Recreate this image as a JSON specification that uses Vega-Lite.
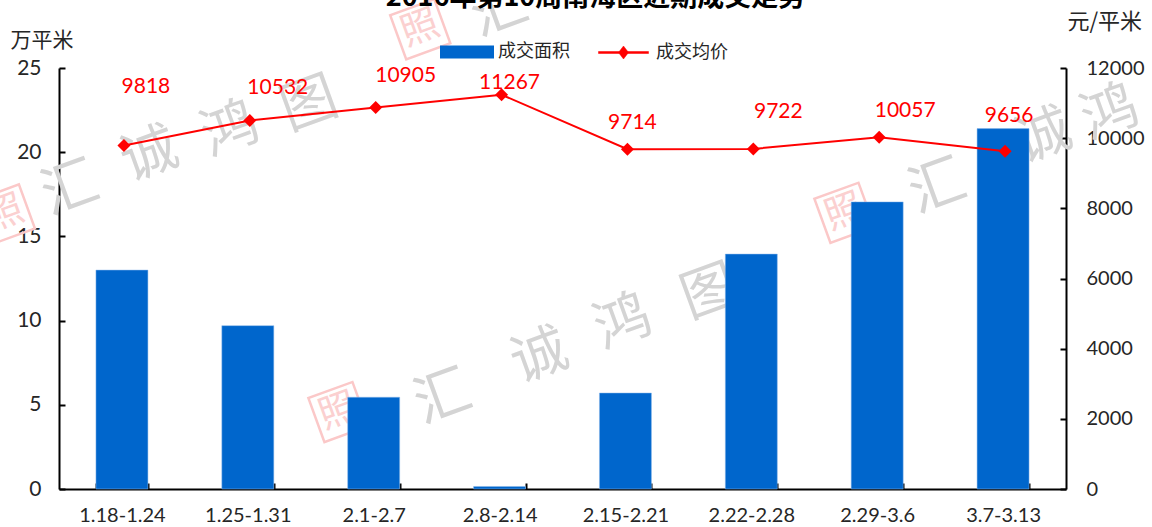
{"$schema":"https://vega.github.io/schema/vega-lite/v6.json","width":1007,"height":421,"autosize":{"type":"none"},"padding":{"left":59,"top":68,"right":86,"bottom":38},"background":"white",
"title":{"text":"2016年第10周南海区近期成交走势","font":"Noto Sans CJK SC","fontWeight":"bold","fontSize":27,"color":"#000000","anchor":"middle","dx":33,"offset":-37},
"config":{"view":{"stroke":null},"axis":{"grid":false}},
"datasets":{
"weeks":[{"week":"1.18-1.24","area":13,"price":9818},{"week":"1.25-1.31","area":9.7,"price":10532},{"week":"2.1-2.7","area":5.45,"price":10905},{"week":"2.8-2.14","area":0.15,"price":11267},{"week":"2.15-2.21","area":5.7,"price":9714},{"week":"2.22-2.28","area":13.95,"price":9722},{"week":"2.29-3.6","area":17.05,"price":10057},{"week":"3.7-3.13","area":21.4,"price":9656}],
"mark":[{"c":"汇","wx":-0.41,"wy":17.8},{"c":"诚","wx":0.22,"wy":19.8},{"c":"鸿","wx":0.86,"wy":21.3},{"c":"图","wx":1.49,"wy":22.8},{"c":"汇","wx":2.55,"wy":5.4},{"c":"诚","wx":3.32,"wy":7.84},{"c":"鸿","wx":3.98,"wy":9.86},{"c":"图","wx":4.67,"wy":11.64},{"c":"汇","wx":6.48,"wy":17.9},{"c":"诚","wx":7.32,"wy":20.9},{"c":"鸿","wx":7.85,"wy":22.3},{"c":"汇","wx":3.0,"wy":28.4}],
"stamp":[{"wx":-0.93,"wy":16.3},{"wx":1.72,"wy":4.57},{"wx":5.74,"wy":16.4},{"wx":2.37,"wy":27.3}]},
"data":{"name":"weeks"},
"layer":[
{"data":{"name":"mark"},"mark":{"type":"text","font":"Noto Sans CJK SC","fontSize":56,"color":"#d4d4d4","angle":-20},"encoding":{"x":{"field":"wx","type":"quantitative","scale":{"domain":[-0.5,7.5],"nice":false},"axis":null},"y":{"field":"wy","type":"quantitative","scale":{"domain":[0,25]},"axis":null},"text":{"field":"c"}}},
{"data":{"name":"stamp"},"layer":[{"mark":{"type":"text","font":"Noto Sans CJK SC","fontSize":38,"color":"#fbd0d0","angle":-20,"text":"照"}},{"mark":{"type":"point","shape":"square","size":2200,"filled":false,"stroke":"#fbc8c8","strokeWidth":2.5,"angle":-20,"opacity":1}}],"encoding":{"x":{"field":"wx","type":"quantitative","scale":{"domain":[-0.5,7.5],"nice":false},"axis":null},"y":{"field":"wy","type":"quantitative","scale":{"domain":[0,25]},"axis":null}}},
{"mark":{"type":"bar","stroke":"#8db8ea","strokeWidth":0.5},"encoding":{
"x":{"field":"week","type":"nominal","sort":null,"scale":{"paddingInner":0.587,"paddingOuter":0.2935},"axis":{"title":null,"labelAngle":0,"labelFont":"Lato","labelFontSize":20,"labelColor":"#262626","labelPadding":22,"tickBand":"extent","tickSize":-6,"tickColor":"#000000","tickWidth":2,"domainColor":"#000000","domainWidth":2,"labelLimit":200}},
"y":{"field":"area","type":"quantitative","scale":{"domain":[0,25]},"axis":{"title":"万平米","titleFont":"Noto Sans CJK SC","titleFontSize":21,"titleFontWeight":"normal","titleColor":"#262626","titleAngle":0,"titleAlign":"left","titleBaseline":"middle","titleX":-49,"titleY":-28,"values":[0,5,10,15,20,25],"labelFont":"Lato","labelFontSize":21,"labelColor":"#262626","labelPadding":24,"tickSize":-6,"tickColor":"#000000","tickWidth":2,"domainColor":"#000000","domainWidth":2}},
"fill":{"datum":"成交面积","type":"nominal","scale":{"domain":["成交面积"],"range":["#0066cc"]},"legend":{"title":null,"orient":"none","legendX":381,"legendY":-43,"symbolType":"M-1,-0.24H1V0.24H-1Z","symbolSize":2916,"symbolStrokeWidth":0,"labelFont":"Noto Sans CJK SC","labelFontSize":18,"labelColor":"#262626","labelOffset":4}}}},
{"layer":[
{"mark":{"type":"line","color":"#ff0000","strokeWidth":2,"xOffset":2,"yOffset":1},"encoding":{"stroke":{"datum":"成交均价","type":"nominal","scale":{"domain":["成交均价"],"range":["#ff0000"]},"legend":{"title":null,"orient":"none","legendX":539,"legendY":-41,"symbolType":"M-1,-0.04H1V0.04H-1ZM0,-0.26L0.2,0L0,0.26L-0.2,0Z","symbolSize":2500,"symbolFillColor":"#ff0000","symbolStrokeWidth":0.5,"labelFont":"Noto Sans CJK SC","labelFontSize":18,"labelColor":"#262626","labelOffset":7}}}},
{"mark":{"type":"point","shape":"diamond","filled":true,"color":"#ff0000","size":170,"opacity":1,"xOffset":2,"yOffset":1}},
{"transform":[{"filter":"datum.price==9818"}],"mark":{"type":"text","color":"#ff0000","font":"Lato","fontSize":21,"dx":24,"dy":-58},"encoding":{"text":{"field":"price"}}},
{"transform":[{"filter":"datum.price==10532"}],"mark":{"type":"text","color":"#ff0000","font":"Lato","fontSize":21,"dx":30,"dy":-32},"encoding":{"text":{"field":"price"}}},
{"transform":[{"filter":"datum.price==10905"}],"mark":{"type":"text","color":"#ff0000","font":"Lato","fontSize":21,"dx":32,"dy":-30},"encoding":{"text":{"field":"price"}}},
{"transform":[{"filter":"datum.price==11267"}],"mark":{"type":"text","color":"#ff0000","font":"Lato","fontSize":21,"dx":10,"dy":-11},"encoding":{"text":{"field":"price"}}},
{"transform":[{"filter":"datum.price==9714"}],"mark":{"type":"text","color":"#ff0000","font":"Lato","fontSize":21,"dx":7,"dy":-25},"encoding":{"text":{"field":"price"}}},
{"transform":[{"filter":"datum.price==9722"}],"mark":{"type":"text","color":"#ff0000","font":"Lato","fontSize":21,"dx":27,"dy":-36},"encoding":{"text":{"field":"price"}}},
{"transform":[{"filter":"datum.price==10057"}],"mark":{"type":"text","color":"#ff0000","font":"Lato","fontSize":21,"dx":28,"dy":-25},"encoding":{"text":{"field":"price"}}},
{"transform":[{"filter":"datum.price==9656"}],"mark":{"type":"text","color":"#ff0000","font":"Lato","fontSize":21,"dx":6,"dy":-34},"encoding":{"text":{"field":"price"}}}
],"encoding":{
"x":{"field":"week","type":"nominal","sort":null,"scale":{"paddingInner":0.587,"paddingOuter":0.2935},"axis":null},
"y":{"field":"price","type":"quantitative","scale":{"domain":[0,12000]},"axis":{"orient":"right","title":"元/平米","titleFont":"Noto Sans CJK SC","titleFontSize":22,"titleFontWeight":"normal","titleColor":"#262626","titleAngle":0,"titleAlign":"left","titleBaseline":"middle","titleX":1,"titleY":-47,"values":[0,2000,4000,6000,8000,10000,12000],"format":"d","labelFont":"Lato","labelFontSize":20,"labelColor":"#262626","labelPadding":26,"tickSize":-6,"tickColor":"#000000","tickWidth":2,"domainColor":"#000000","domainWidth":2}}}}
],
"resolve":{"scale":{"x":"independent","y":"independent","fill":"independent","stroke":"independent"}}}
